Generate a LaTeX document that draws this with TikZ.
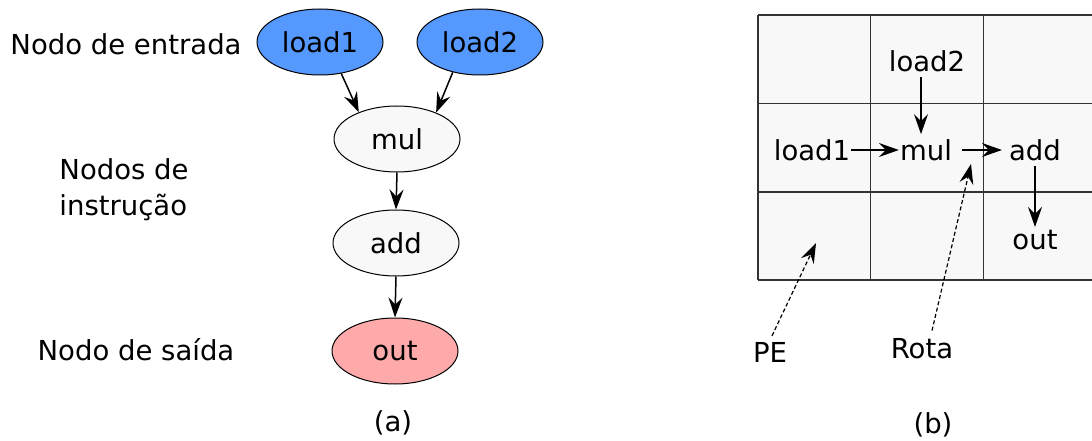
\documentclass[tikz,border=0pt]{standalone}
\usepackage{fontspec}
\setmainfont{DejaVu Sans}
\usetikzlibrary{arrows.meta,shapes.geometric}
\definecolor{inblue}{HTML}{5599FF}
\definecolor{outpink}{HTML}{FFAAAA}
\definecolor{opfill}{HTML}{F8F8F8}
\definecolor{gridline}{HTML}{333333}

\begin{document}
\begin{tikzpicture}[x=1pt,y=-1pt,
  font=\fontsize{27.5}{36}\selectfont,
  dfgnode/.style={ellipse, draw=black, line width=1pt, minimum width=126pt,
                  minimum height=66pt, inner sep=0pt, fill=opfill},
  innode/.style={dfgnode, fill=inblue},
  outnode/.style={dfgnode, fill=outpink},
  flow/.style={line width=1.5pt, -{Stealth[length=20pt,width=14pt,inset=7pt]}},
  hint/.style={line width=1.2pt, dash pattern=on 4pt off 2.5pt,
               -{Stealth[length=20pt,width=14pt,inset=7pt,line width=1.2pt]}},
  caption/.style={inner sep=0pt},
  cell/.style={inner sep=1pt}
]
\useasboundingbox (0,0) rectangle (1092,441);

% (a) data-flow graph
\node[innode]  (load1) at (320,42)  {load1};
\node[innode]  (load2) at (480,42)  {load2};
\node[dfgnode] (mul)   at (397,139) {mul};
\node[dfgnode] (add)   at (396,243) {add};
\node[outnode] (out)   at (395,351) {out};

\draw[flow] (load1.-56) -- (mul.145);
\draw[flow] (load2.-132) -- (mul.34);
\draw[flow] (mul.south) -- (add.north);
\draw[flow] (add.south) -- (out.north);

\node[caption] (lblin)  at (126,44)  {Nodo de entrada};
\node[caption, align=left] (lblop) at (124,190) {Nodos de\\instrução};
\node[caption] (lblout) at (136,350) {Nodo de saída};
\node[caption] (capa)   at (393,423) {(a)};

% (b) processing-element array
\fill[opfill] (758,15) rectangle (1100,280);
\draw[gridline, line width=1.5pt]
  (758,15) -- (1100,15)
  (758,103.5) -- (1100,103.5)
  (758,192) -- (1100,192)
  (758,280) -- (1100,280)
  (758,15) -- (758,280)
  (870.5,15) -- (870.5,280)
  (983.5,15) -- (983.5,280)
  (1096,15) -- (1096,280);

\node[cell] (gload2) at (927,61)   {load2};
\node[cell] (gload1) at (812,150)  {load1};
\node[cell] (gmul)   at (926,150)  {mul};
\node[cell] (gadd)   at (1035,150) {add};
\node[cell] (gout)   at (1035,240) {out};

\draw[flow] ([xshift=-6pt,yshift=-4pt]gload2.south) -- ([xshift=-5pt,yshift=4pt]gmul.north);
\draw[flow] (gload1.east) -- (gmul.west);
\draw[flow, shorten <=9pt, shorten >=6pt] (gmul.east) -- (gadd.west);
\draw[flow, shorten <=4pt, shorten >=2pt] (gadd.south) -- (gout.north);

\coordinate (petip) at (816,243);
\coordinate (rotatip) at (971,164);
\node[caption] (pe)   at (770,352) {PE};
\node[caption] (rota) at (922,349) {Rota};
\draw[hint] (pe.north) ++(2,-6) -- (petip);
\draw[hint] (rota.north) ++(10,-8) -- (rotatip);

\node[caption] (capb) at (933,425) {(b)};
\end{tikzpicture}
\end{document}
